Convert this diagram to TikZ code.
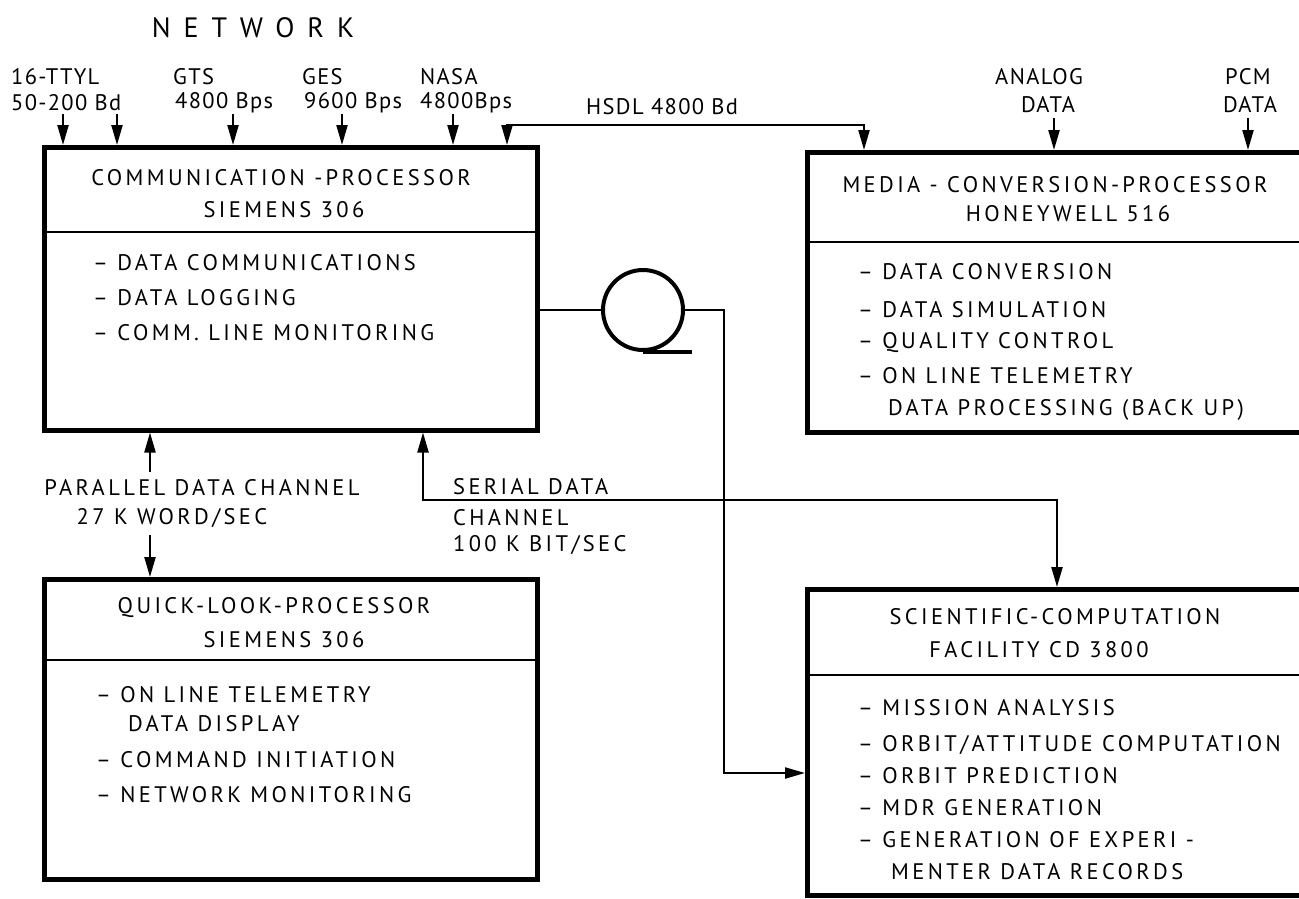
\documentclass[tikz,border=0pt]{standalone}
\usepackage{fontspec}
\setmainfont{PT Sans}[LetterSpace=15]
\newfontfamily\titlefont{PT Sans}[LetterSpace=46]
\newfontfamily\tightfont{PT Sans}[LetterSpace=6]
\usetikzlibrary{arrows.meta}
\begin{document}
\begin{tikzpicture}[x=1pt,y=-1pt,
  box/.style={draw,line width=4.5pt,rectangle,anchor=north west,inner sep=0pt},
  div/.style={line width=2.5pt},
  lbl/.style={inner sep=0pt,font=\fontsize{22.5}{26}\selectfont},
  toplbl/.style={inner sep=0pt,font=\tightfont\fontsize{22.5}{26}\selectfont},
  item/.style={lbl,anchor=west},
  wire/.style={line width=2.2pt},
  arr/.style={wire,-{Triangle[length=20pt,width=11pt]}},
  dblarr/.style={wire,{Triangle[length=20pt,width=11pt]}-{Triangle[length=20pt,width=11pt]}}
]
\clip (0,0) rectangle (1299,898);
\fill[white] (0,0) rectangle (1299,898);

% title
\node[inner sep=0pt,font=\titlefont\fontsize{28}{32}\selectfont] (net) at (253,28) {NETWORK};

% boxes
\node[box,minimum width=493pt,minimum height=283pt] (comm) at (42,145) {};
\node[box,minimum width=540pt,minimum height=280pt] (media) at (805,150) {};
\node[box,minimum width=493pt,minimum height=300pt] (quick) at (42,577) {};
\node[box,minimum width=540pt,minimum height=306pt] (sci) at (805,587) {};

% dividers
\draw[div] (comm.west |- 0,232) -- (comm.east |- 0,232);
\draw[div] (media.west |- 0,242) -- (media.east |- 0,242);
\draw[div] (quick.west |- 0,660) -- (quick.east |- 0,660);
\draw[div] (sci.west |- 0,675) -- (sci.east |- 0,675);

% comm texts
\node[lbl] (ct1) at (281,178) {COMMUNICATION -PROCESSOR};
\node[lbl] (ct2) at (284,210) {SIEMENS 306};
\node[item] (ci1) at (93,263) {– DATA COMMUNICATIONS};
\node[item] (ci2) at (93,298) {– DATA LOGGING};
\node[item] (ci3) at (93,333) {– COMM. LINE MONITORING};

% media texts
\node[lbl] (mt1) at (1055,185) {MEDIA - CONVERSION-PROCESSOR};
\node[lbl] (mt2) at (1068,214) {HONEYWELL 516};
\node[item] (mi1) at (858,272) {– DATA CONVERSION};
\node[item] (mi2) at (858,310) {– DATA SIMULATION};
\node[item] (mi3) at (858,343) {– QUALITY CONTROL};
\node[item] (mi4) at (858,376) {– ON LINE TELEMETRY};
\node[item] (mi5) at (888,410) {DATA PROCESSING (BACK UP)};

% quick texts
\node[lbl] (qt1) at (274,608) {QUICK-LOOK-PROCESSOR};
\node[lbl] (qt2) at (284,640) {SIEMENS 306};
\node[item] (qi1) at (96,695) {– ON LINE TELEMETRY};
\node[item] (qi1b) at (128,724) {DATA DISPLAY};
\node[item] (qi2) at (96,760) {– COMMAND INITIATION};
\node[item] (qi3) at (96,795) {– NETWORK MONITORING};

% sci texts
\node[lbl] (st1) at (1055,617) {SCIENTIFIC-COMPUTATION};
\node[lbl] (st2) at (1039,650) {FACILITY CD 3800};
\node[item] (si1) at (858,708) {– MISSION ANALYSIS};
\node[item] (si2) at (858,745) {– ORBIT/ATTITUDE COMPUTATION};
\node[item] (si3) at (858,776) {– ORBIT PREDICTION};
\node[item] (si4) at (858,808) {– MDR GENERATION};
\node[item] (si5) at (858,840) {– GENERATION OF EXPERI -};
\node[item] (si6) at (891,872) {MENTER DATA RECORDS};

% top input labels
\node[toplbl,anchor=west] (ttyl1) at (11,77) {16-TTYL};
\node[toplbl,anchor=west] (ttyl2) at (11,103) {50-200 Bd};
\node[toplbl,anchor=west] (gts1) at (173,77) {GTS};
\node[toplbl,anchor=west] (gts2) at (175,103) {4800 Bps};
\node[toplbl,anchor=west] (ges1) at (302,77) {GES};
\node[toplbl,anchor=west] (ges2) at (304,103) {9600 Bps};
\node[toplbl,anchor=west] (nasa1) at (420,77) {NASA};
\node[toplbl,anchor=west] (nasa2) at (420,103) {4800Bps};
\node[toplbl,anchor=west] (hsdl) at (586,107) {HSDL 4800 Bd};
\node[toplbl] (ana1) at (1039,77) {ANALOG};
\node[toplbl] (ana2) at (1048,105) {DATA};
\node[toplbl] (pcm1) at (1248,77) {PCM};
\node[toplbl] (pcm2) at (1250,105) {DATA};

% input arrows
\coordinate (a1) at (63,114);
\coordinate (a2) at (117,114);
\coordinate (a3) at (233,114);
\coordinate (a4) at (342,114);
\coordinate (a5) at (453,114);
\draw[arr] (a1) -- (a1 |- comm.north);
\draw[arr] (a2) -- (a2 |- comm.north);
\draw[arr] (a3) -- (a3 |- comm.north);
\draw[arr] (a4) -- (a4 |- comm.north);
\draw[arr] (a5) -- (a5 |- comm.north);
\coordinate (a6) at (1054,118);
\coordinate (a7) at (1248,118);
\draw[arr] (a6) -- (a6 |- media.north);
\draw[arr] (a7) -- (a7 |- media.north);

% HSDL
\coordinate (h1) at (507,125);
\coordinate (h2) at (864,125);
\draw[dblarr] (h1 |- comm.north) -- (h1) -- (h2) -- (h2 |- media.north);

% parallel channel
\node[lbl] (par1) at (202,488) {PARALLEL DATA CHANNEL};
\node[lbl] (par2) at (172,518) {27 K WORD/SEC};
\draw[arr] (150,472) -- (comm.south -| 150,0);
\draw[arr] (150,535) -- (quick.north -| 150,0);

% serial channel
\node[item] (ser1) at (453,487) {SERIAL DATA};
\node[item] (ser2) at (453,518) {CHANNEL};
\node[item] (ser3) at (453,545) {100 K BIT/SEC};
\coordinate (s1) at (423,500);
\coordinate (s2) at (1057,500);
\draw[dblarr] (comm.south -| s1) -- (s1) -- (s2) -- (sci.north -| s2);

% tape
\node[draw,circle,line width=4pt,minimum size=80pt,inner sep=0pt] (tape) at (643,310) {};
\draw[line width=4pt] (tape.south) -- ++(49,0);
\draw[wire] (comm.east |- tape.west) -- (tape.west);
\coordinate (t1) at (724,310);
\coordinate (t2) at (724,773);
\draw[arr] (tape.east) -- (t1) -- (t2) -- (sci.west |- t2);
\end{tikzpicture}
\end{document}
